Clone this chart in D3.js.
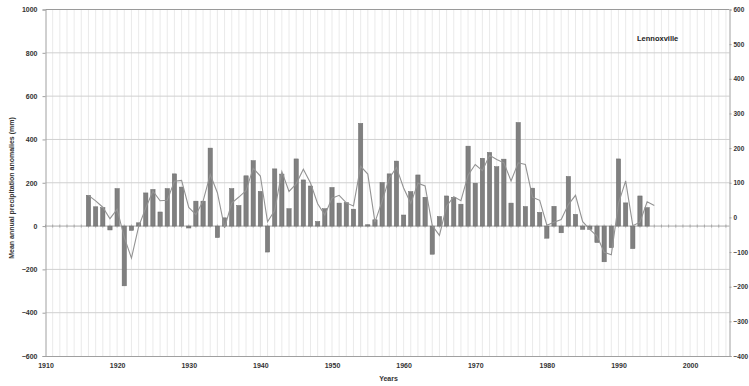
<!DOCTYPE html>
<html>
<head>
<meta charset="utf-8">
<script src="https://cdn.jsdelivr.net/npm/d3@7"></script>
<style>
  body { margin: 0; background: #fff; }
  text { font-family: "Liberation Sans", Arial, sans-serif; font-weight: bold; fill: #333; }
</style>
</head>
<body>
<svg id="chart" width="749" height="386"></svg>
<script>
// Annual precipitation anomalies (mm), 1916-1994
const barYears = d3.range(1916, 1995);
const barValues = [
  142, 89, 85, -18, 173, -276, -20, 15, 153, 169,
  65, 173, 241, 180, -9, 115, 115, 360, -53, 38,
  173, 95, 232, 302, 160, -120, 264, 240, 80, 310,
  213, 185, 21, 80, 178, 106, 108, 78, 474, 6,
  29, 201, 241, 300, 51, 159, 236, 133, -130, 44,
  139, 133, 101, 369, 198, 313, 340, 274, 309, 106,
  478, 90, 175, 63, -56, 91, -31, 229, 54, -15,
  -15, -76, -165, -100, 310, 107, -104, 139, 85
];

// Smoothed curve, 1916-1995
const lineYears = d3.range(1916, 1996);
const lineValues = [
  142, 116, 87, 34, 78, -52, -148, -3, 84, 161,
  117, 119, 207, 211, 86, 53, 115, 238, 154, -8,
  106, 134, 164, 267, 231, 20, 72, 252, 160, 195,
  262, 199, 103, 51, 129, 142, 107, 93, 276, 240,
  18, 115, 221, 271, 176, 105, 198, 185, 2, -43,
  92, 136, 117, 235, 284, 256, 327, 307, 292, 208,
  292, 284, 133, 119, 4, 18, 30, 99, 142, 20,
  -15, -46, -121, -133, 105, 209, 2, 18, 112, 95
];

const leftTicks = [1000, 800, 600, 400, 200, 0, -200, -400, -600];
const rightTicks = [600, 500, 400, 300, 200, 100, 0, -100, -200, -300, -400];
const yearLabels = [1910, 1920, 1930, 1940, 1950, 1960, 1970, 1980, 1990, 2000];

const plot = { left: 45.5, right: 729.5, top: 9.5, bottom: 356 };

const svg = d3.select('#chart');

const x = d3.scaleLinear().domain([1910, 2005.5]).range([plot.left, plot.right]);
const y = d3.scaleLinear().domain([-600, 1000]).range([plot.bottom, plot.top]);
const yRight = d3.scaleLinear().domain([-400, 600]).range([plot.bottom, plot.top]);

// vertical gridlines, one per year
svg.append('g')
  .selectAll('line')
  .data(d3.range(1911, 2006))
  .join('line')
  .attr('x1', d => x(d)).attr('x2', d => x(d))
  .attr('y1', plot.top).attr('y2', plot.bottom)
  .attr('stroke', '#e4e4e4')
  .attr('stroke-width', 0.8);

// horizontal gridlines
svg.append('g')
  .selectAll('line')
  .data(leftTicks.filter(d => d !== 0 && d !== -600))
  .join('line')
  .attr('x1', plot.left).attr('x2', plot.right)
  .attr('y1', d => y(d)).attr('y2', d => y(d))
  .attr('stroke', d => d === 1000 ? '#9a9a9a' : '#d0d0d0')
  .attr('stroke-width', 1);

// zero line with year ticks
svg.append('line')
  .attr('x1', plot.left).attr('x2', plot.right)
  .attr('y1', y(0)).attr('y2', y(0))
  .attr('stroke', '#a8a8a8');
svg.append('g')
  .selectAll('line')
  .data(d3.range(1910, 2006))
  .join('line')
  .attr('x1', d => x(d)).attr('x2', d => x(d))
  .attr('y1', y(0) - 1.5).attr('y2', y(0) + 1.5)
  .attr('stroke', '#a8a8a8');

// bars
const barW = 4.3;
svg.append('g')
  .selectAll('rect')
  .data(barYears.map((yr, i) => ({ yr, v: barValues[i] })))
  .join('rect')
  .attr('x', d => x(d.yr) - barW / 2)
  .attr('width', barW)
  .attr('y', d => y(Math.max(0, d.v)))
  .attr('height', d => Math.abs(y(d.v) - y(0)))
  .attr('fill', '#808080')
  .attr('stroke', '#6a6a6a')
  .attr('stroke-width', 0.5);

// smoothed line
const line = d3.line()
  .x(d => x(d.yr))
  .y(d => y(d.v));
svg.append('path')
  .datum(lineYears.map((yr, i) => ({ yr, v: lineValues[i] })))
  .attr('d', line)
  .attr('fill', 'none')
  .attr('stroke', '#939393')
  .attr('stroke-width', 1.1);

// left axis
const leftAxis = svg.append('g').attr('transform', `translate(${plot.left},0)`)
  .call(d3.axisLeft(y).tickValues(leftTicks).tickSize(3).tickPadding(5).tickFormat(d3.format('d')));
leftAxis.select('.domain').attr('stroke', '#a0a0a0');
leftAxis.selectAll('.tick line').attr('stroke', '#a0a0a0');
leftAxis.selectAll('text').style('font-size', '7px');

// right axis
const rightAxis = svg.append('g').attr('transform', `translate(${plot.right},0)`)
  .call(d3.axisRight(yRight).tickValues(rightTicks).tickSize(2).tickPadding(2).tickFormat(d3.format('d')));
rightAxis.select('.domain').attr('stroke', '#a0a0a0');
rightAxis.selectAll('.tick line').attr('stroke', '#a0a0a0');
rightAxis.selectAll('text').style('font-size', '6.5px');

// bottom axis
const bottomAxis = svg.append('g').attr('transform', `translate(0,${plot.bottom})`)
  .call(d3.axisBottom(x).tickValues(yearLabels).tickSize(0).tickPadding(7).tickFormat(d3.format('d')));
bottomAxis.select('.domain').attr('stroke', '#a0a0a0');
bottomAxis.selectAll('text').style('font-size', '7px');

// titles
svg.append('text')
  .attr('x', (plot.left + plot.right) / 2 + 1)
  .attr('y', 381)
  .attr('text-anchor', 'middle')
  .style('font-size', '7px')
  .text('Years');

svg.append('text')
  .attr('transform', 'translate(14,188) rotate(-90)')
  .attr('text-anchor', 'middle')
  .style('font-size', '7px')
  .text('Mean annual precipitation anomalies (mm)');

svg.append('text')
  .attr('x', 637)
  .attr('y', 41)
  .style('font-size', '7.5px')
  .style('fill', '#222')
  .text('Lennoxville');
</script>
</body>
</html>
